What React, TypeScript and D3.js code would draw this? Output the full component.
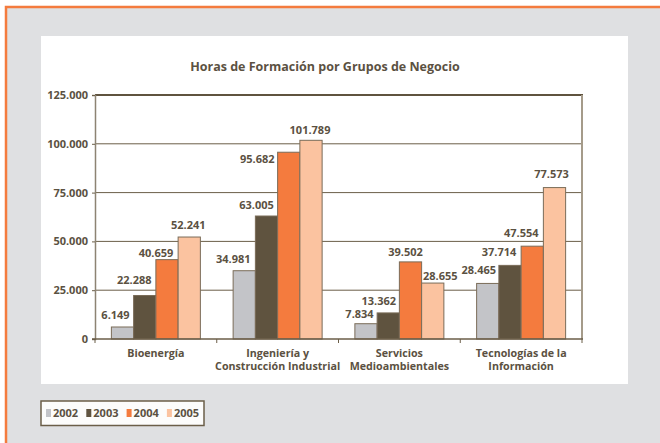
import React, { useEffect, useRef } from "react";
import * as d3 from "d3";

// data
const categories = [
  ["Bioenergía"],
  ["Ingeniería y", "Construcción Industrial"],
  ["Servicios", "Medioambientales"],
  ["Tecnologías de la", "Información"],
];
const years = ["2002", "2003", "2004", "2005"];
const values2002 = [6149, 34981, 7834, 28465];
const values2003 = [22288, 63005, 13362, 37714];
const values2004 = [40659, 95682, 39502, 47554];
const values2005 = [52241, 101789, 28655, 77573];
const yTicks = [0, 25000, 50000, 75000, 100000, 125000];

// manual label nudges (dx, dy) as in the original, per category then per year
const labelNudge = [
  [[-7, 0], [-10.5, -3.5], [-11, 5], [-1, 0]],
  [[-11, 0], [-10, 1], [-31.5, 19], [-1, 1.7]],
  [[-6.5, 2], [-9.5, 0], [-5, 2], [7.5, 5]],
  [[-9, -1.4], [-11, -1.4], [-11, -1.5], [-3, -1.3]],
];

const colors = ["#c3c4c8", "#5f533f", "#f47b3e", "#fbc3a0"];
const textColor = "#5b5142";
const font = "'Open Sans', 'DejaVu Sans', sans-serif";

export default function App() {
  const ref = useRef<SVGSVGElement>(null);

  useEffect(() => {
    const svg = d3.select(ref.current);
    svg.selectAll("*").remove();

    const W = 660, H = 443;
    const series = [values2002, values2003, values2004, values2005];

    // background + orange frame
    svg.append("rect").attr("width", W).attr("height", H).attr("fill", "#ffffff");
    svg.append("rect")
      .attr("x", 6).attr("y", 7).attr("width", W + 20).attr("height", H + 20)
      .attr("fill", "#dfe0e2").attr("stroke", "#f47b3e").attr("stroke-width", 2.5);

    // white chart panel
    svg.append("rect")
      .attr("x", 41).attr("y", 36).attr("width", 587).attr("height", 348)
      .attr("fill", "#ffffff");

    svg.append("text")
      .attr("x", 325).attr("y", 71)
      .attr("text-anchor", "middle")
      .attr("font-family", font).attr("font-weight", 700).attr("font-size", 12.5)
      .attr("fill", textColor)
      .text("Horas de Formación por Grupos de Negocio");

    const left = 95, right = 582, top = 95, bottom = 339;

    const x0 = d3.scaleBand<number>()
      .domain(d3.range(categories.length))
      .range([left, right])
      .paddingInner(0.269)
      .paddingOuter(0.1345);
    const x1 = d3.scaleBand<number>()
      .domain(d3.range(years.length))
      .range([0, x0.bandwidth()]);
    const y = d3.scaleLinear().domain([0, 125000]).range([bottom, top]);

    // gridlines
    svg.append("g")
      .selectAll("line")
      .data(yTicks.filter((t) => t > 0 && t < 125000))
      .join("line")
      .attr("x1", left).attr("x2", right)
      .attr("y1", (d) => y(d)).attr("y2", (d) => y(d))
      .attr("stroke", "#6b5e48").attr("stroke-width", 1);

    // frame: top dark, right grey
    svg.append("line")
      .attr("x1", left).attr("x2", right + 1).attr("y1", top).attr("y2", top)
      .attr("stroke", "#5f533f").attr("stroke-width", 2);
    svg.append("line")
      .attr("x1", right).attr("x2", right).attr("y1", top).attr("y2", bottom)
      .attr("stroke", "#a59b8a").attr("stroke-width", 2);

    // bars
    const groups = svg.append("g")
      .selectAll("g")
      .data(categories.map((_, i) => i))
      .join("g")
      .attr("transform", (i) => `translate(${x0(i)},0)`);

    groups.selectAll("rect")
      .data((i) => series.map((s, k) => ({ k, v: s[i] })))
      .join("rect")
      .attr("x", (d) => x1(d.k)!)
      .attr("y", (d) => y(d.v))
      .attr("width", x1.bandwidth())
      .attr("height", (d) => bottom - y(d.v))
      .attr("fill", (d) => colors[d.k])
      .attr("stroke", "#7a6c58")
      .attr("stroke-width", 1);

    groups.selectAll("text")
      .data((i) => series.map((s, k) => ({ i, k, v: s[i] })))
      .join("text")
      .attr("x", (d) => x1(d.k)! + x1.bandwidth() / 2 + labelNudge[d.i][d.k][0])
      .attr("y", (d) => y(d.v) - 8 + labelNudge[d.i][d.k][1])
      .attr("text-anchor", "middle")
      .attr("font-family", font).attr("font-weight", 700).attr("font-size", 11)
      .attr("fill", textColor)
      .text((d) => d3.format(",")(d.v).replace(/,/g, "."));

    // y axis
    const yAxis = svg.append("g")
      .attr("transform", `translate(${left},0)`)
      .call(d3.axisLeft(y).tickValues(yTicks).tickSize(3).tickPadding(4)
        .tickFormat((d) => d3.format(",")(d as number).replace(/,/g, ".")));
    yAxis.select(".domain").attr("stroke", "#8d8373").attr("stroke-width", 1.5);
    yAxis.selectAll(".tick line").attr("stroke", "#6b5e48");
    yAxis.selectAll("text")
      .attr("font-family", font).attr("font-weight", 700).attr("font-size", 11)
      .attr("fill", textColor);

    // x baseline + category ticks
    svg.append("line")
      .attr("x1", left - 3).attr("x2", right + 1).attr("y1", bottom).attr("y2", bottom)
      .attr("stroke", "#6b5e48").attr("stroke-width", 1.5);
    svg.append("g")
      .selectAll("line")
      .data(d3.range(categories.length + 1))
      .join("line")
      .attr("x1", (i) => left + i * x0.step()).attr("x2", (i) => left + i * x0.step())
      .attr("y1", bottom).attr("y2", bottom + 4)
      .attr("stroke", "#6b5e48").attr("stroke-width", 1);

    // category labels, one text element per line
    const catLines = categories.flatMap((lines, i) =>
      lines.map((t, j) => ({ i, j, t }))
    );
    svg.append("g")
      .selectAll("text")
      .data(catLines)
      .join("text")
      .attr("x", (d) => x0(d.i)! + x0.bandwidth() / 2)
      .attr("y", (d) => 357 + d.j * 12.5)
      .attr("text-anchor", "middle")
      .attr("font-family", font).attr("font-weight", 700).attr("font-size", 10.7)
      .attr("fill", textColor)
      .text((d) => d.t);

    // legend
    svg.append("rect")
      .attr("x", 41).attr("y", 401).attr("width", 163).attr("height", 24.5)
      .attr("fill", "#fcfcfb").attr("stroke", "#6b5e48").attr("stroke-width", 1.5);
    const leg = svg.append("g")
      .selectAll("g")
      .data(years)
      .join("g")
      .attr("transform", (_, k) => `translate(${46 + k * 40.3},0)`);
    leg.append("rect")
      .attr("x", 0).attr("y", 409).attr("width", 5).attr("height", 8)
      .attr("fill", (_, k) => colors[k]);
    leg.append("text")
      .attr("x", 7).attr("y", 417)
      .attr("font-family", font).attr("font-weight", 700).attr("font-size", 11)
      .attr("fill", textColor)
      .text((d) => d);
  }, []);

  return (
    <svg
      ref={ref}
      width={660}
      height={443}
      style={{ position: "absolute", left: 0, top: 0 }}
    />
  );
}
